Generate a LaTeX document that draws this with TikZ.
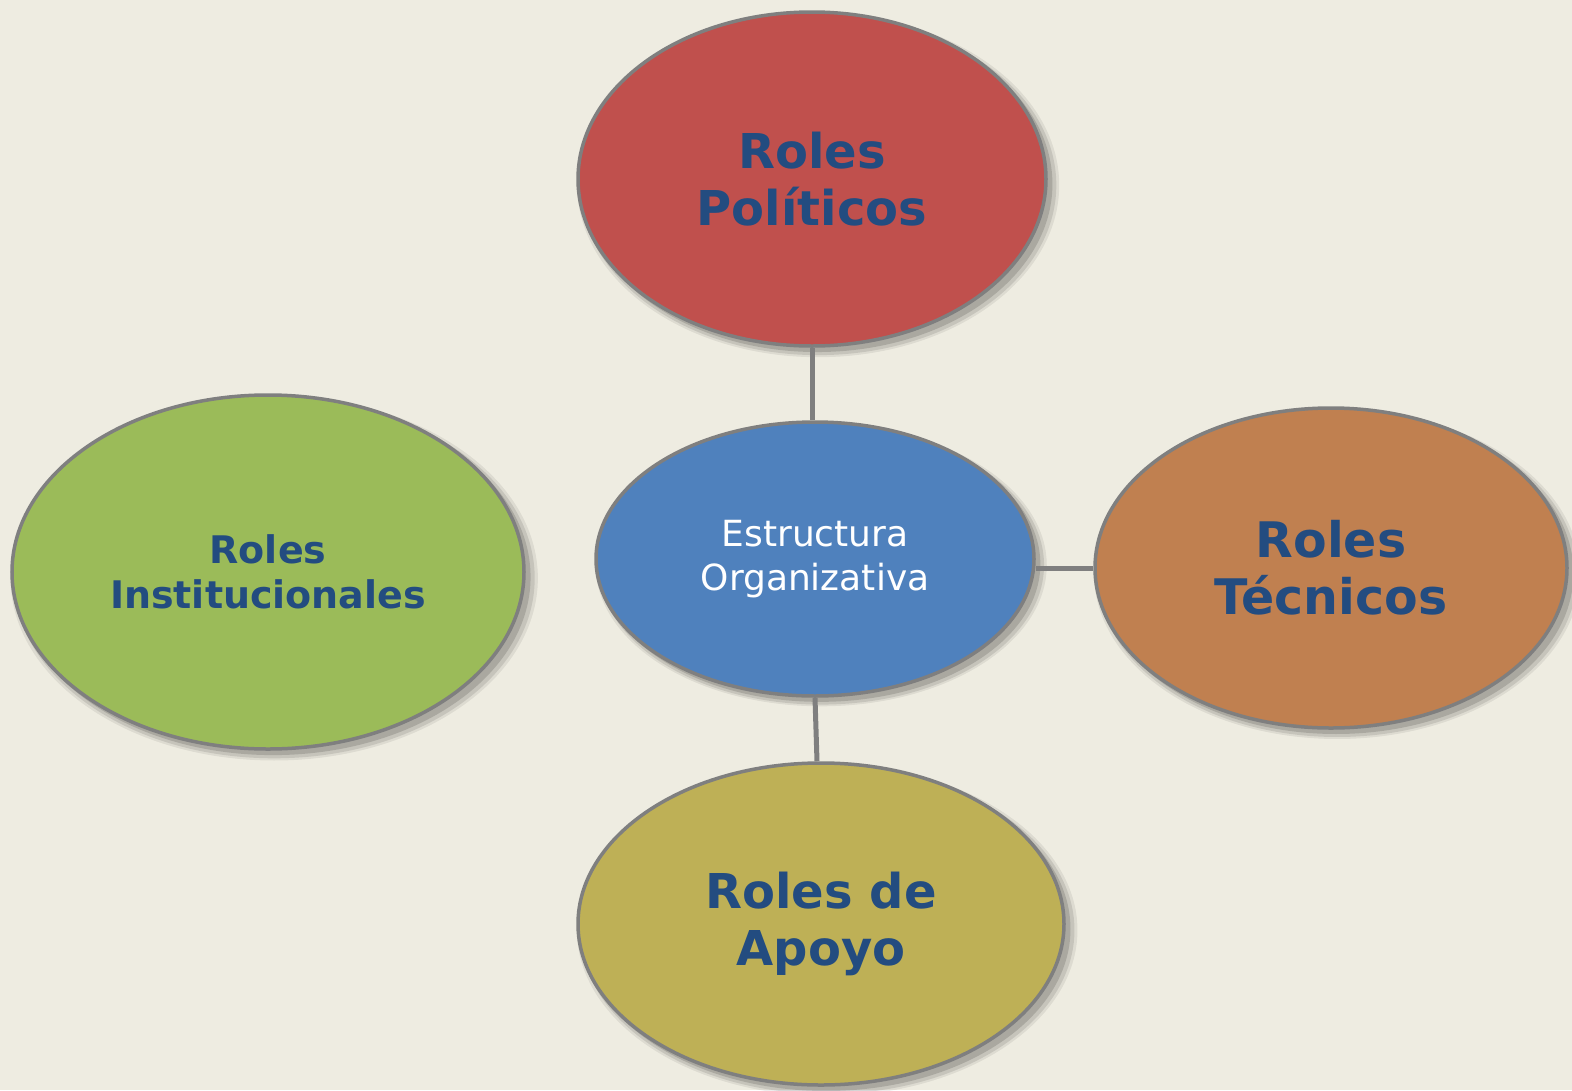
\documentclass[tikz,border=0pt]{standalone}
\usepackage{fontspec}
\setmainfont{DejaVu Sans}
\usetikzlibrary{shapes.geometric,shadows}
\definecolor{bgc}{HTML}{EEECE1}
\definecolor{redc}{HTML}{C0504D}
\definecolor{bluec}{HTML}{4F81BD}
\definecolor{greenc}{HTML}{9BBB59}
\definecolor{orangec}{HTML}{C08050}
\definecolor{olivec}{HTML}{BEB056}
\definecolor{txtc}{HTML}{234C80}
\definecolor{linec}{HTML}{7F7F7F}
\tikzset{
  bubble/.style={ellipse, draw=linec, line width=3.5pt, inner sep=0pt, align=center,
    general shadow={shadow xshift=6pt, shadow yshift=-6pt, shadow scale=1.03, fill=black, opacity=0.07},
    general shadow={shadow xshift=6pt, shadow yshift=-6pt, shadow scale=1.018, fill=black, opacity=0.1},
    general shadow={shadow xshift=5pt, shadow yshift=-5pt, shadow scale=1.006, fill=black, opacity=0.14}},
  bigtxt/.style={font=\fontsize{48}{57}\selectfont\bfseries, text=txtc},
  link/.style={draw=linec, line width=5pt}
}
\begin{document}
\begin{tikzpicture}[x=1pt,y=-1pt]
\fill[bgc] (0,0) rectangle (1572,1090);
\useasboundingbox (0,0) rectangle (1572,1090);
\node[bubble, fill=redc, minimum width=468pt, minimum height=334pt, bigtxt] (pol) at (812,179) {Roles\\Políticos};
\node[bubble, fill=bluec, minimum width=438pt, minimum height=274pt, text=white, font=\fontsize{36}{44}\selectfont] (est) at (815,559) {Estructura\\Organizativa};
\node[bubble, fill=greenc, minimum width=512pt, minimum height=354pt, text=txtc, font=\fontsize{38}{45}\selectfont\bfseries] (ins) at (268,572) {Roles\\Institucionales};
\node[bubble, fill=orangec, minimum width=472pt, minimum height=320pt, font=\fontsize{49}{57}\selectfont\bfseries, text=txtc] (tec) at (1331,568) {Roles\\Técnicos};
\node[bubble, fill=olivec, minimum width=486pt, minimum height=322pt, bigtxt] (apo) at (821,924) {Roles de\\Apoyo};
\draw[link] (pol.south) -- (pol.south |- est.north);
\draw[link] (est.south) -- ([xshift=2pt]est.south |- apo.north);
\draw[link] (tec.west) -- (tec.west -| est.east);
\end{tikzpicture}
\end{document}
